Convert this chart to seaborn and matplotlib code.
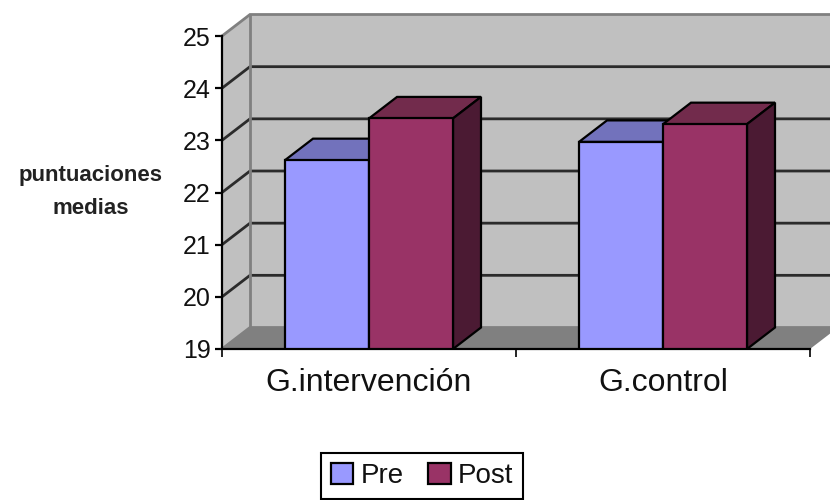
import pandas as pd
import seaborn as sns
import matplotlib.pyplot as plt

# Values
grupos = ['G.intervención', 'G.control']
pre = [22.62, 22.97]
post = [23.42, 23.31]
yticks = [19, 20, 21, 22, 23, 24, 25]

df = pd.DataFrame({
    'grupo': grupos * 2,
    'momento': ['Pre'] * 2 + ['Post'] * 2,
    'media': pre + post,
})

sns.set_theme(style='white')
plt.rcParams['font.family'] = ['Liberation Sans', 'DejaVu Sans']

fig = plt.figure(figsize=(8.3, 5), dpi=100)
ax = fig.add_axes([222 / 830, 1 - 349 / 500, 588 / 830, 313 / 500])
ax.patch.set_alpha(0)

sns.barplot(data=df, x='grupo', y='media', hue='momento', ax=ax,
            palette=['#9999ff', '#993366'], width=4 / 7, gap=0,
            edgecolor='black', linewidth=1.6, saturation=1, zorder=5)

ax.set_xlim(-0.5, 1.5)
ax.set_ylim(19, 25)
ax.set_yticks(yticks)

# depth of the fake 3D box, in data units
dx = 28 / 294
dy = 21.5 / 52.17
x0, x1 = -0.5, 1.5

# walls and floor
ax.fill([x0, x0 + dx, x0 + dx, x0], [19, 19 + dy, 25 + dy, 25],
        color='#c0c0c0', clip_on=False, zorder=0.5, lw=0)
ax.fill([x0 + dx, x1 + dx, x1 + dx, x0 + dx], [19 + dy, 19 + dy, 25 + dy, 25 + dy],
        color='#c0c0c0', clip_on=False, zorder=0.5, lw=0)
ax.fill([x0, x1, x1 + dx, x0 + dx], [19, 19, 19 + dy, 19 + dy],
        color='#808080', clip_on=False, zorder=1.5, lw=0)

# gridlines on both walls
for t in yticks:
    c = '#808080' if t in (19, 25) else '#2b2b2b'
    ax.plot([x0, x0 + dx, x1 + dx], [t, t + dy, t + dy], color=c, lw=2,
            clip_on=False, zorder=1, solid_joinstyle='miter')
ax.plot([x0 + dx, x0 + dx], [19 + dy, 25 + dy], color='#808080', lw=2,
        clip_on=False, zorder=1)

# top and side faces of each bar
shades = [('#7272bc', '#4c4c80'), ('#722b4c', '#4b1a33')]
for cont, (top_c, side_c) in zip(ax.containers, shades):
    for bar in cont:
        left = bar.get_x()
        right = left + bar.get_width()
        h = bar.get_height()
        ax.fill([left, right, right + dx, left + dx], [h, h, h + dy, h + dy],
                facecolor=top_c, edgecolor='black', lw=1.6, zorder=3)
        ax.fill([right, right + dx, right + dx, right], [19, 19 + dy, h + dy, h],
                facecolor=side_c, edgecolor='black', lw=1.6, zorder=3)

for side in ['top', 'right']:
    ax.spines[side].set_visible(False)
for side in ['left', 'bottom']:
    ax.spines[side].set_color('black')
    ax.spines[side].set_linewidth(1.6)
    ax.spines[side].set_zorder(6)

ax.set_xticks([-0.5, 0.5, 1.5], minor=True)
ax.tick_params(axis='x', which='major', length=0, labelsize=23, pad=13.5, colors='#111111')
ax.tick_params(axis='x', which='minor', length=6, width=1.2, color='black', bottom=True)
ax.tick_params(axis='y', length=5, width=1.6, left=True, color='black',
               labelsize=18, pad=3, labelcolor='#111111')

ax.set_xlabel('')
ax.set_ylabel('puntuaciones\nmedias', rotation=0, fontsize=16, fontweight='bold',
              linespacing=1.7, color='#222222', ha='center', va='center')
ax.yaxis.set_label_coords(-131 / 588, 1 - 156 / 313)

handles, labels = ax.get_legend_handles_labels()
ax.legend(handles, labels, loc='center', bbox_to_anchor=(422 / 830, 1 - 476 / 500),
          bbox_transform=fig.transFigure, ncol=2, fontsize=20, frameon=True,
          fancybox=False, edgecolor='black', framealpha=1, borderpad=0.36,
          handlelength=0.8, handleheight=0.8, handletextpad=0.25, columnspacing=0.9,
          labelspacing=0, labelcolor='#111111')
ax.get_legend().get_frame().set_linewidth(1.5)

plt.savefig('out.png', dpi=100)
